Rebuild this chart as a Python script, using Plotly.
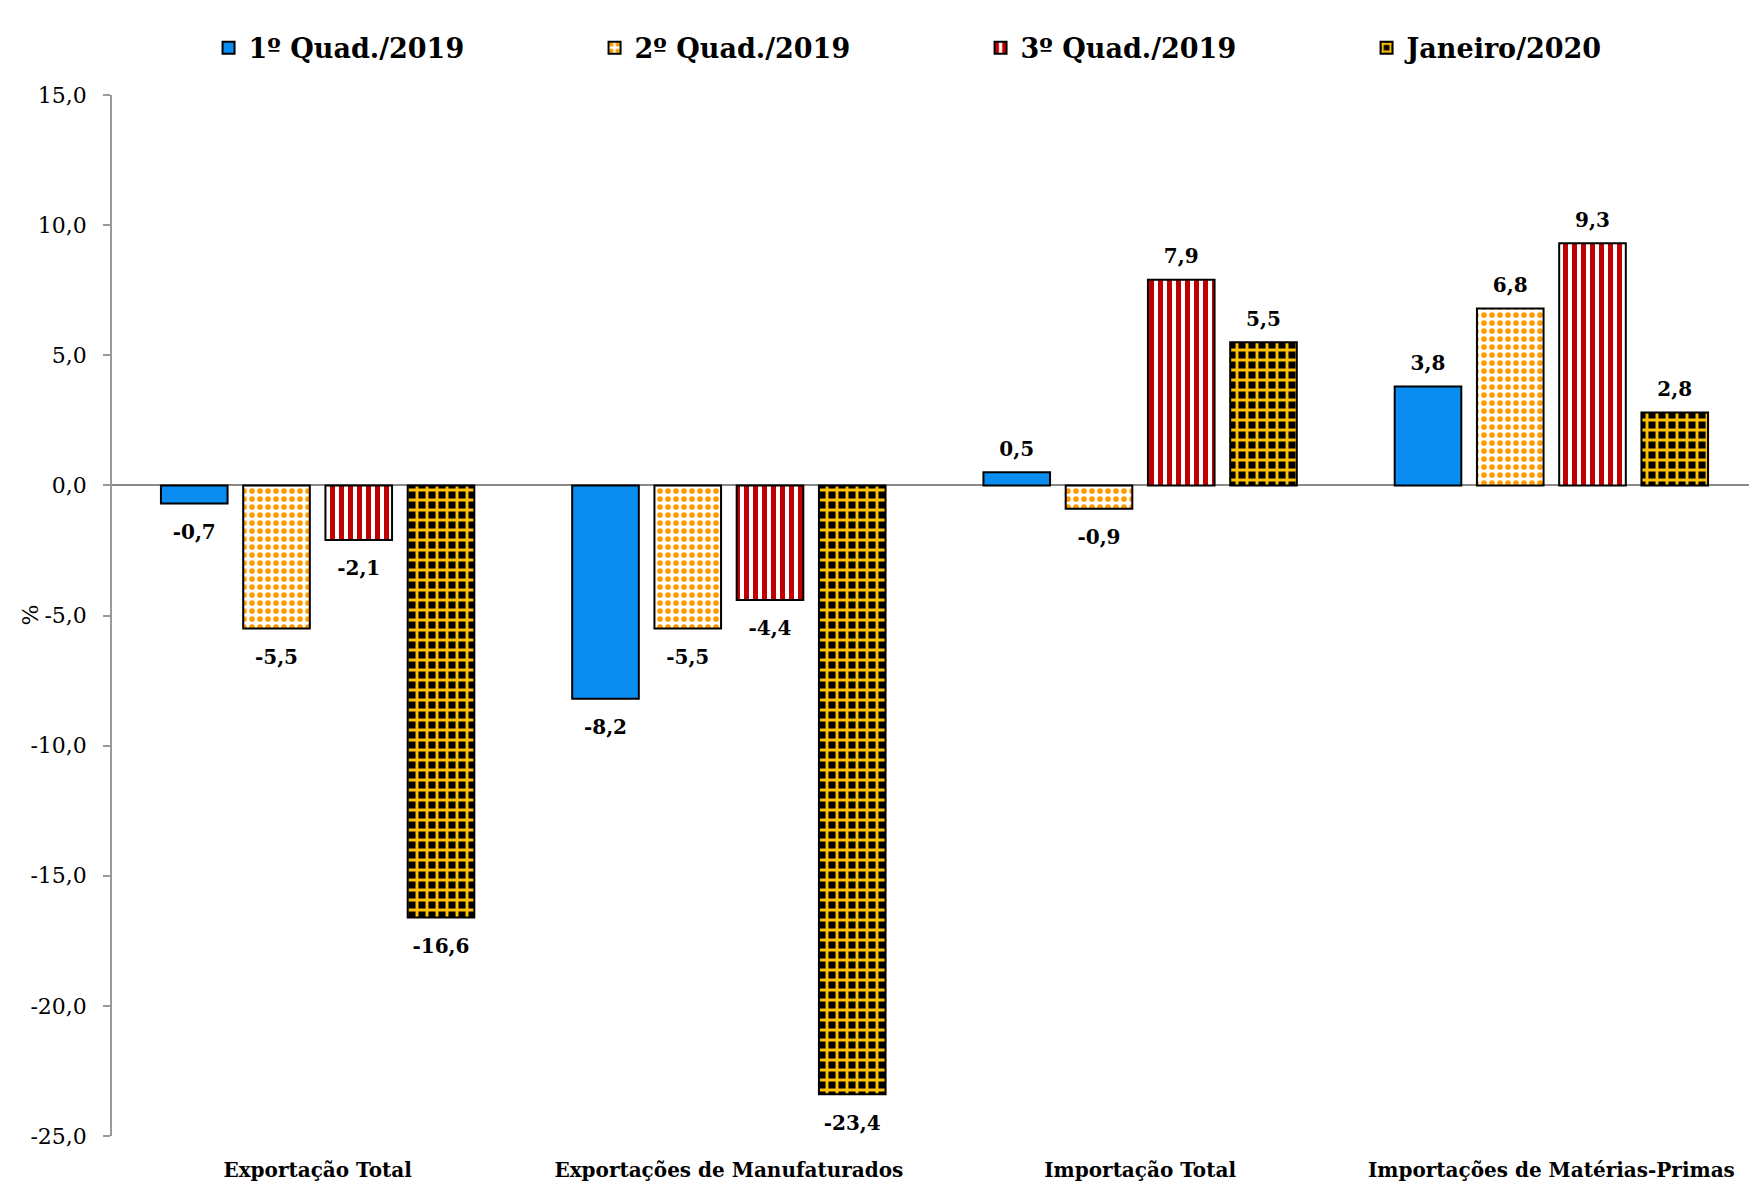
import plotly.graph_objects as go

categories = ["Exportação Total", "Exportações de Manufaturados", "Importação Total", "Importações de Matérias-Primas"]
series_names = ["1º Quad./2019", "2º Quad./2019", "3º Quad./2019", "Janeiro/2020"]
q1_2019 = [-0.7, -8.2, 0.5, 3.8]
q2_2019 = [-5.5, -5.5, -0.9, 6.8]
q3_2019 = [-2.1, -4.4, 7.9, 9.3]
jan_2020 = [-16.6, -23.4, 5.5, 2.8]
y_tickvals = [15, 10, 5, 0, -5, -10, -15, -20, -25]
y_ticktext = ["15,0", "10,0", "5,0", "0,0", "-5,0", "-10,0", "-15,0", "-20,0", "-25,0"]

FONT = "DejaVu Serif"

def fmt(v):
    return f"{v:.1f}".replace(".", ",")

styles = [
    dict(color="#0A8CF0", pattern=None),
    dict(color="white", pattern=dict(shape=".", fgcolor="#FF9A00", bgcolor="white", size=8, solidity=0.4, fgopacity=1, fillmode="replace")),
    dict(color="white", pattern=dict(shape="|", fgcolor="#C00000", bgcolor="white", size=9, solidity=0.55, fgopacity=1, fillmode="replace")),
    dict(color="#000000", pattern=dict(shape="+", fgcolor="#FFC000", bgcolor="#000000", size=10, solidity=0.5, fgopacity=1, fillmode="replace")),
]

fig = go.Figure()
all_vals = [q1_2019, q2_2019, q3_2019, jan_2020]
for i, (name, vals, st) in enumerate(zip(series_names, all_vals, styles)):
    marker = dict(color=st["color"], line=dict(color="black", width=2))
    if st["pattern"]:
        marker["pattern"] = st["pattern"]
    fig.add_trace(go.Bar(
        x=categories, y=vals, name=name, marker=marker,
        offsetgroup=str(i), legendgroup=str(i),
    ))

for i, vals in enumerate(all_vals):
    fig.add_trace(go.Scatter(
        x=categories, y=vals, mode="markers+text",
        text=[fmt(v) for v in vals],
        textposition=["top center" if v >= 0 else "bottom center" for v in vals],
        textfont=dict(family=FONT, size=20, color="black", weight="bold"),
        marker=dict(size=[17 if v >= 0 else 31 for v in vals], color="rgba(0,0,0,0)",
                    line=dict(width=0, color="rgba(0,0,0,0)")),
        offsetgroup=str(i), showlegend=False, hoverinfo="skip", cliponaxis=False,
    ))

fig.update_layout(
    width=1749, height=1174,
    paper_bgcolor="white", plot_bgcolor="white",
    barmode="group", bargap=0.2, bargroupgap=0.19,
    scattermode="group", scattergap=0.2,
    margin=dict(l=104, r=0, t=87, b=42),
    font=dict(family=FONT, color="black"),
    legend=dict(
        orientation="h", x=0.0587, xanchor="left", y=1.045, yanchor="middle",
        font=dict(family=FONT, size=27, weight="bold"),
        entrywidth=341, itemwidth=30, traceorder="normal",
    ),
    xaxis=dict(
        showline=False, showgrid=False, zeroline=False, ticks="",
        tickfont=dict(family=FONT, size=20, weight="bold"),
        ticklabelstandoff=20,
    ),
    yaxis=dict(
        range=[-25, 15], tickvals=y_tickvals, ticktext=y_ticktext,
        showgrid=False, showline=True, linecolor="#9a9a9a", linewidth=1.5,
        ticks="outside", ticklen=7, tickcolor="#9a9a9a", tickwidth=1.5,
        zeroline=True, zerolinecolor="#8a8a8a", zerolinewidth=1.5,
        tickfont=dict(family=FONT, size=22),
        ticklabelstandoff=12,
    ),
    annotations=[dict(
        text="%", xref="paper", yref="paper", x=-0.0498, y=0.5,
        xanchor="center", yanchor="middle", textangle=-90, showarrow=False,
        font=dict(family=FONT, size=22, color="black"),
    )],
)

fig.write_html("out.html")
